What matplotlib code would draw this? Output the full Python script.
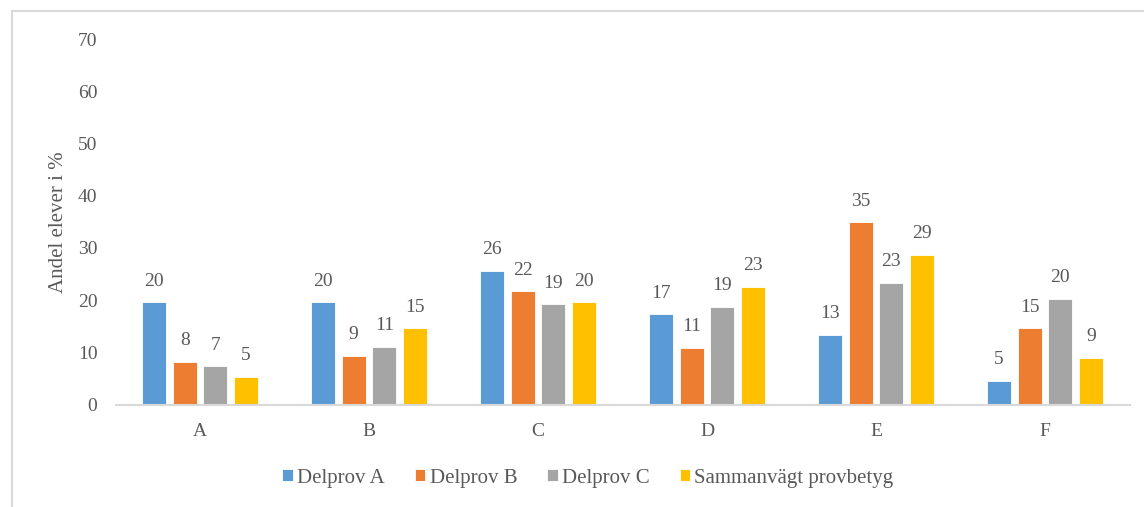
import matplotlib.pyplot as plt
import numpy as np
from matplotlib.lines import Line2D

plt.rcParams['font.family'] = ['Liberation Serif', 'DejaVu Serif']

categories = ['A', 'B', 'C', 'D', 'E', 'F']
series_names = ['Delprov A', 'Delprov B', 'Delprov C', 'Sammanvägt provbetyg']
delprov_a = [19.6, 19.6, 25.6, 17.3, 13.3, 4.6]
delprov_b = [8.2, 9.3, 21.7, 10.8, 34.9, 14.6]
delprov_c = [7.3, 11.0, 19.2, 18.7, 23.3, 20.2]
sammanvagt = [5.3, 14.6, 19.6, 22.6, 28.7, 9.0]
colors = ['#5B9BD5', '#ED7D31', '#A5A5A5', '#FFC000']

txt = '#595959'
W, H = 1144, 507
fig = plt.figure(figsize=(W / 100, H / 100), dpi=100)
ax = fig.add_axes([115.5 / W, 1 - 404.5 / H, (1129.5 - 115.5) / W, (404.5 - 39.3) / H])

x = np.arange(len(categories))
pitch = 0.1817
width = 0.142
all_series = [delprov_a, delprov_b, delprov_c, sammanvagt]
for i, (vals, c, name) in enumerate(zip(all_series, colors, series_names)):
    pos = x + (i - 1.5) * pitch
    ax.bar(pos, vals, width, color=c, edgecolor='white', linewidth=0.6, label=name)
    for px, v in zip(pos, vals):
        ax.annotate('{:.0f}'.format(v), (px, v), xytext=(0, 12), textcoords='offset points',
                    ha='center', va='baseline', fontsize=14, color=txt)

ax.set_xlim(-0.5, 5.5)
ax.set_ylim(0, 70)
ax.set_yticks(range(0, 71, 10))
ax.set_xticks(x)
ax.set_xticklabels(categories)
ax.tick_params(axis='both', length=0, labelsize=14, colors=txt)
ax.tick_params(axis='y', pad=13)
ax.tick_params(axis='x', pad=13, labelsize=14)
for s in ['top', 'right', 'left']:
    ax.spines[s].set_visible(False)
ax.spines['bottom'].set_color('#D9D9D9')
ax.spines['bottom'].set_linewidth(1.5)
ax.set_ylabel('Andel elever i %', fontsize=15, color=txt, labelpad=7)

leg = fig.legend(loc='center', bbox_to_anchor=(588 / W, 1 - 478 / H), ncol=4, frameon=False,
                 fontsize=15, handlelength=0.5, handleheight=0.5, handletextpad=0.2,
                 columnspacing=1.45, labelcolor=txt)

# chart frame (top and left edges visible)
fig.add_artist(Line2D([12 / W, 12 / W], [0, 1 - 10.7 / H], transform=fig.transFigure,
                      color='#D9D9D9', linewidth=1.5))
fig.add_artist(Line2D([12 / W, 1], [1 - 10.7 / H, 1 - 10.7 / H], transform=fig.transFigure,
                      color='#D9D9D9', linewidth=1.5))

fig.savefig('out.png', dpi=100, facecolor='white')
